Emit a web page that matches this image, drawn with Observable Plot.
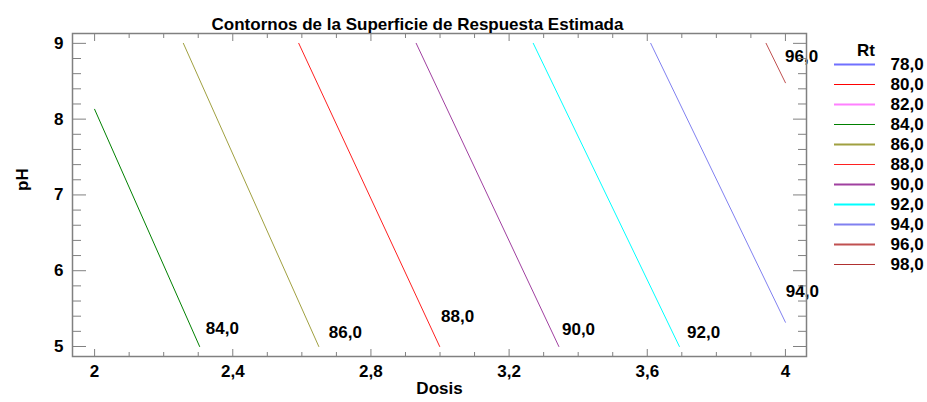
<!DOCTYPE html>
<html>
<head>
<meta charset="utf-8">
<script src="https://cdn.jsdelivr.net/npm/d3@7"></script>
<script src="https://cdn.jsdelivr.net/npm/@observablehq/plot@0.6"></script>
<style>
  body { margin: 0; background: #fff; }
  #wrap { position: relative; width: 927px; height: 402px; }
  #legend { position: absolute; left: 820px; top: 30px; }
  svg { overflow: visible; }
</style>
</head>
<body>
<div id="wrap"><div id="chart"></div><div id="legend"></div></div>
<script>
// ---- data ----
const levels = [78, 80, 82, 84, 86, 88, 90, 92, 94, 96, 98];
const levelColors = ["#7070ff", "#ff0000", "#ff80ff", "#008000", "#a0a040", "#ff2020", "#a040a0", "#00ffff", "#8080f0", "#c05050", "#b03030"];
const legendWidths = [2, 1, 2, 1.2, 2, 1.2, 2, 2, 2, 2, 1.2];

// contour polylines (endpoints)
const contourLevel = [84, 84, 86, 86, 88, 88, 90, 90, 92, 92, 94, 94, 96, 96];
const contourDosis = [2.0, 2.304, 2.257, 2.649, 2.591, 2.999, 2.931, 3.344, 3.270, 3.693, 3.610, 4.0, 3.944, 4.0];
const contourPH    = [8.13, 5.0, 9.0, 5.0, 9.0, 5.0, 9.0, 5.0, 9.0, 5.0, 9.0, 5.32, 9.0, 8.48];

// contour labels
const labelLevel = [84, 86, 88, 90, 92, 94, 96];
const labelDosis = [2.370, 2.726, 3.051, 3.401, 3.763, 4.049, 4.047];
const labelPH    = [5.24, 5.18, 5.40, 5.23, 5.18, 5.72, 8.82];

// axis ticks
const xMajor = [2, 2.4, 2.8, 3.2, 3.6, 4];
const xMinor = [2.1, 2.2, 2.3, 2.5, 2.6, 2.7, 2.9, 3.0, 3.1, 3.3, 3.4, 3.5, 3.7, 3.8, 3.9];
const yMajor = [5, 6, 7, 8, 9];
const yMinor = [5.2, 5.4, 5.6, 5.8, 6.2, 6.4, 6.6, 6.8, 7.2, 7.4, 7.6, 7.8, 8.2, 8.4, 8.6, 8.8];

const title = "Contornos de la Superficie de Respuesta Estimada";
const xLabel = "Dosis";
const yLabel = "pH";
const legendTitle = "Rt";

// ---- build ----
const fmt = v => v.toFixed(1).replace(".", ",");
const fmtTick = v => String(v).replace(".", ",");
const contours = contourLevel.map((l, i) => ({level: l, dosis: contourDosis[i], ph: contourPH[i]}));
const labels = labelLevel.map((l, i) => ({level: l, dosis: labelDosis[i], ph: labelPH[i]}));

const FONT = "'Liberation Sans', Arial, sans-serif";
const FS = 17;
const gray = "#808080";

const chart = Plot.plot({
  width: 927, height: 402,
  marginLeft: 72, marginRight: 121, marginTop: 33, marginBottom: 46,
  x: {domain: [1.936, 4.061], label: null},
  y: {domain: [4.868, 9.13], label: null},
  color: {type: "ordinal", domain: levels, range: levelColors},
  style: {fontFamily: FONT, fontSize: FS + "px", fontWeight: "bold", color: "black", background: "white"},
  marks: [
    Plot.line(contours, {x: "dosis", y: "ph", z: "level", stroke: "level", strokeWidth: 1}),
    Plot.text(labels, {x: "dosis", y: "ph", text: d => fmt(d.level), fill: "black", fontSize: FS, fontWeight: "bold"}),
    Plot.frame({stroke: gray, strokeWidth: 1.5}),
    // x axis bottom
    Plot.axisX(xMajor, {anchor: "bottom", tickSize: -7, stroke: gray, fill: "none", label: null}),
    Plot.axisX(xMinor, {anchor: "bottom", tickSize: -4, stroke: gray, fill: "none", label: null}),
    Plot.axisX(xMajor, {anchor: "bottom", tickSize: 0, tickPadding: 8, tickFormat: fmtTick, fill: "black", fontSize: FS, fontWeight: "bold", label: null}),
    // x axis top
    Plot.axisX(xMajor, {anchor: "top", tickSize: -7, stroke: gray, fill: "none", label: null}),
    Plot.axisX(xMinor, {anchor: "top", tickSize: -4, stroke: gray, fill: "none", label: null}),
    // y axis left
    Plot.axisY(yMajor, {anchor: "left", tickSize: -14, stroke: gray, fill: "none", label: null}),
    Plot.axisY(yMinor, {anchor: "left", tickSize: -9, stroke: gray, fill: "none", label: null}),
    Plot.axisY(yMajor, {anchor: "left", tickSize: 0, tickPadding: 9, tickFormat: fmtTick, fill: "black", fontSize: FS, fontWeight: "bold", label: null}),
    // y axis right
    Plot.axisY(yMajor, {anchor: "right", tickSize: -14, stroke: gray, fill: "none", label: null}),
    Plot.axisY(yMinor, {anchor: "right", tickSize: -9, stroke: gray, fill: "none", label: null}),
    // titles
    Plot.text([title], {frameAnchor: "top", dx: -22, dy: -16, fontSize: FS, fontWeight: "bold", fill: "black"}),
    Plot.text([xLabel], {frameAnchor: "bottom", dy: 37, fontSize: FS, fontWeight: "bold", fill: "black"}),
    Plot.text([yLabel], {frameAnchor: "left", dx: -50, dy: -4, rotate: -90, fontSize: FS, fontWeight: "bold", fill: "black"})
  ]
});
document.getElementById("chart").appendChild(chart);

const legend = Plot.plot({
  width: 107, height: 250,
  marginLeft: 14, marginRight: 52, marginTop: 33, marginBottom: 15,
  y: {type: "point", domain: levels, padding: 0, axis: null},
  color: {type: "ordinal", domain: levels, range: levelColors},
  style: {fontFamily: FONT, fontSize: FS + "px", fontWeight: "bold", color: "black", background: "transparent"},
  marks: [
    Plot.ruleY(levels, {y: d => d, stroke: d => d, strokeWidth: (d, i) => legendWidths[i]}),
    Plot.text(levels, {y: d => d, text: d => fmt(d), frameAnchor: "right", dx: 15, textAnchor: "start", fontSize: FS, fontWeight: "bold", fill: "black"}),
    Plot.text([legendTitle], {frameAnchor: "top", dx: 11, dy: -20, fontSize: FS, fontWeight: "bold", fill: "black"})
  ]
});
document.getElementById("legend").appendChild(legend);
</script>
</body>
</html>
